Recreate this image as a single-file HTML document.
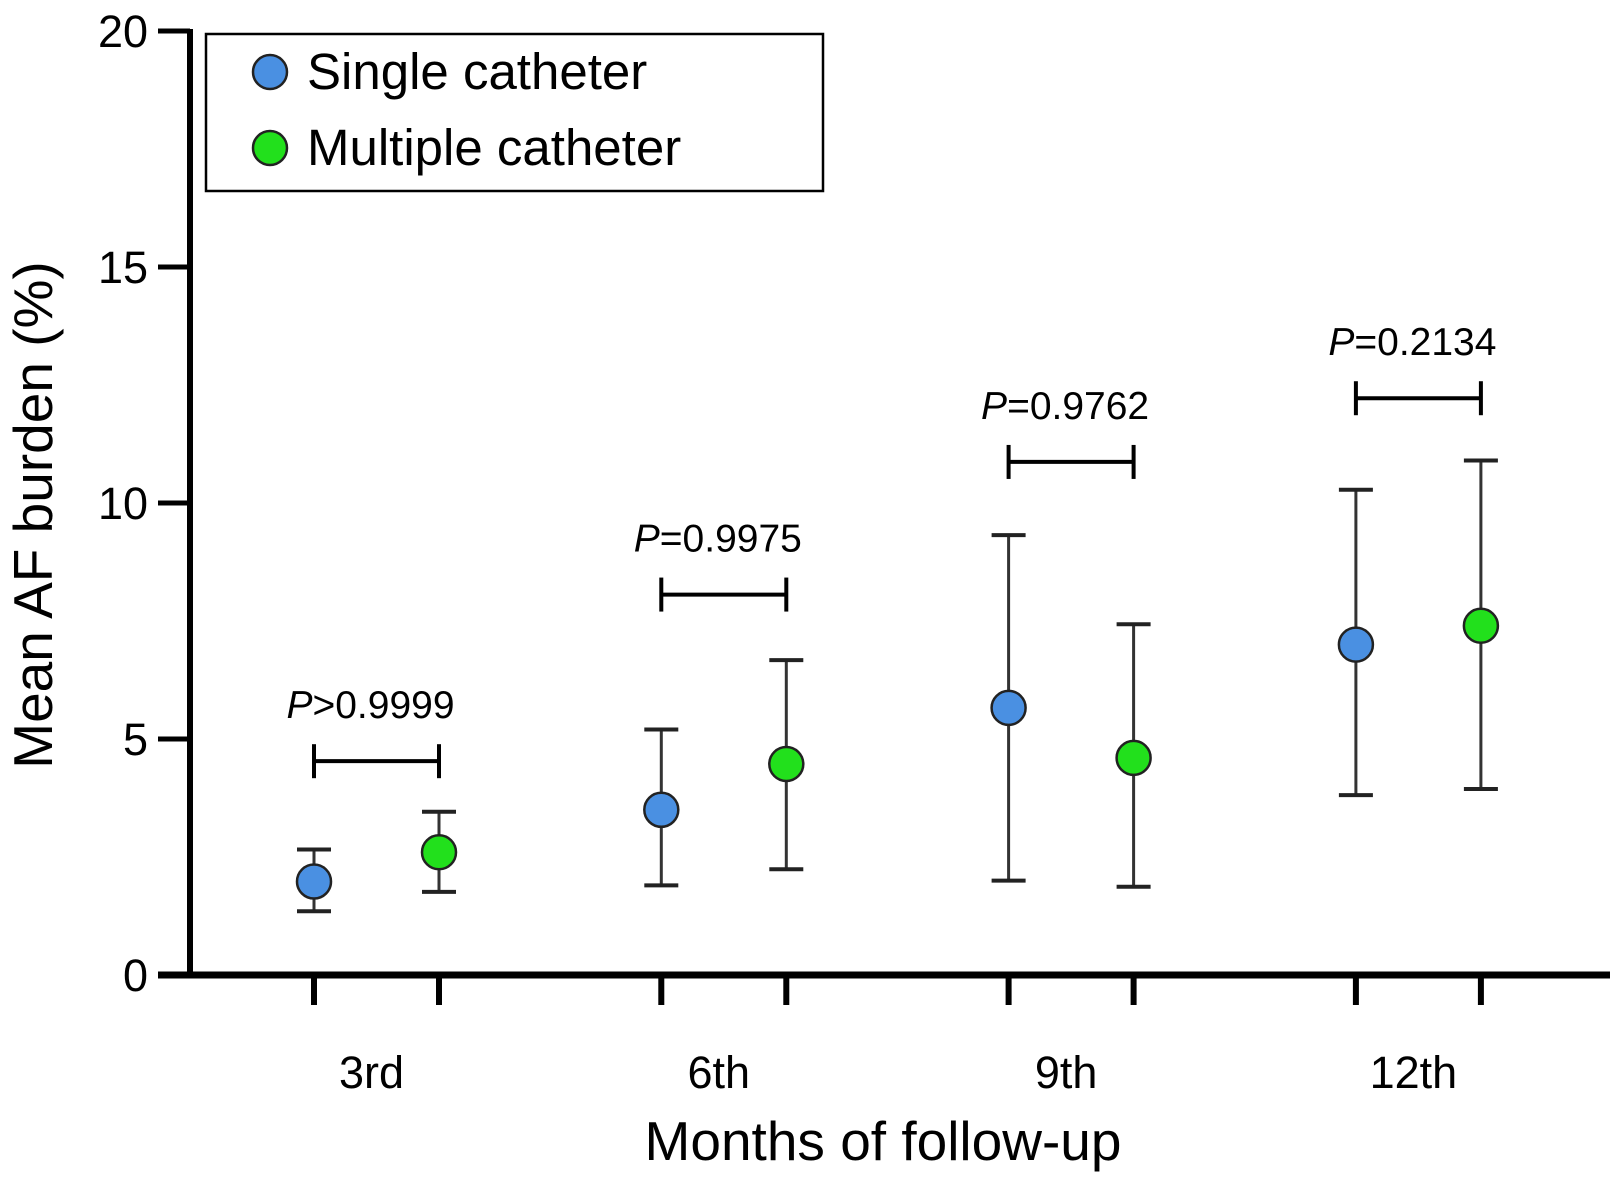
<!DOCTYPE html>
<html><head><meta charset="utf-8"><style>
body{margin:0;background:#fff;}
svg{display:block;font-family:"Liberation Sans",Arial,sans-serif;}
</style></head><body>
<svg id="chart" width="1613" height="1185" viewBox="0 0 1613 1185">
<g id="axes"></g><g id="marks"></g>
<rect x="206" y="34" width="617" height="157" fill="#fff" stroke="#000" stroke-width="2.5"/>
<g>
<circle cx="270" cy="72" r="17" fill="#4a90e2" stroke="#222" stroke-width="2.5"/>
<text x="307" y="89" font-size="51">Single catheter</text></g>
<g>
<circle cx="270" cy="148" r="17" fill="#22e01c" stroke="#222" stroke-width="2.5"/>
<text x="307" y="165" font-size="51">Multiple catheter</text></g>
<text x="883" y="1160" font-size="55" text-anchor="middle">Months of follow-up</text>
<text transform="translate(52,515) rotate(-90)" font-size="55" text-anchor="middle">Mean AF burden (%)</text>
</svg>
<script>
const categories=["3rd","6th","9th","12th"];
const singleMean=[1.98,3.5,5.66,7.0];
const singleHi=[2.66,5.2,9.32,10.28];
const singleLo=[1.35,1.9,2.0,3.81];
const multiMean=[2.6,4.47,4.6,7.4];
const multiHi=[3.46,6.67,7.43,10.9];
const multiLo=[1.76,2.24,1.87,3.94];
const pLabels=["P>0.9999","P=0.9975","P=0.9762","P=0.2134"];
const bracketY=[4.53,8.06,10.87,12.22];
const yTicks=[0,5,10,15,20];
const NS="http://www.w3.org/2000/svg";
const y=v=>975-v*(944/20);
const xs=i=>314+i*347.3, xm=i=>439+i*347.3;
function mk(t,a,p){const e=document.createElementNS(NS,t);for(const k in a)e.setAttribute(k,a[k]);p.appendChild(e);return e;}
const ax=document.getElementById('axes'),mg=document.getElementById('marks');
const ya=mk('line',{x1:190,y1:29,x2:190,y2:978,stroke:'#000','stroke-width':6},ax);

const xa=mk('line',{x1:158,y1:975,x2:1610,y2:975,stroke:'#000','stroke-width':7},ax);

yTicks.forEach(v=>{
 const t=mk('line',{x1:158,y1:y(v),x2:190,y2:y(v),stroke:'#000','stroke-width':5},ax);
 
 const l=mk('text',{x:148,y:y(v)+16,'font-size':45,'text-anchor':'end'},ax);l.textContent=v;
 
});
categories.forEach((c,i)=>{
 [xs(i),xm(i)].forEach(x=>{const t=mk('line',{x1:x,y1:975,x2:x,y2:1005,stroke:'#000','stroke-width':6},ax);
  });
 const l=mk('text',{x:(xs(i)+xm(i))/2-5,y:1088,'font-size':45,'text-anchor':'middle'},ax);l.textContent=c;
 
 const series=[[xs(i),singleMean[i],singleHi[i],singleLo[i],'#4a90e2','single'],[xm(i),multiMean[i],multiHi[i],multiLo[i],'#22e01c','multiple']];
 series.forEach(([x,m,h,lo,col,nm])=>{
  const g=mk('g',{},mg);
  mk('line',{x1:x,y1:y(h),x2:x,y2:y(lo),stroke:'#333','stroke-width':3},g);
  mk('line',{x1:x-17,y1:y(h),x2:x+17,y2:y(h),stroke:'#222','stroke-width':4},g);
  mk('line',{x1:x-17,y1:y(lo),x2:x+17,y2:y(lo),stroke:'#222','stroke-width':4},g);
  const p=mk('circle',{cx:x,cy:y(m),r:17,fill:col,stroke:'#222','stroke-width':2.5},mg);
  
 });
 const b=mk('g',{},mg);
 const by=y(bracketY[i]);
 mk('line',{x1:xs(i),y1:by,x2:xm(i),y2:by,stroke:'#000','stroke-width':4},b);
 mk('line',{x1:xs(i),y1:by-17,x2:xs(i),y2:by+17,stroke:'#000','stroke-width':4},b);
 mk('line',{x1:xm(i),y1:by-17,x2:xm(i),y2:by+17,stroke:'#000','stroke-width':4},b);
 const pt=mk('text',{x:(xs(i)+xm(i))/2-6,y:by-43,'font-size':39,'text-anchor':'middle'},mg);
 
 const s=pLabels[i];const it=mk('tspan',{'font-style':'italic'},pt);it.textContent=s[0];
 const r=mk('tspan',{},pt);r.textContent=s.slice(1);
});
</script>
</body></html>
